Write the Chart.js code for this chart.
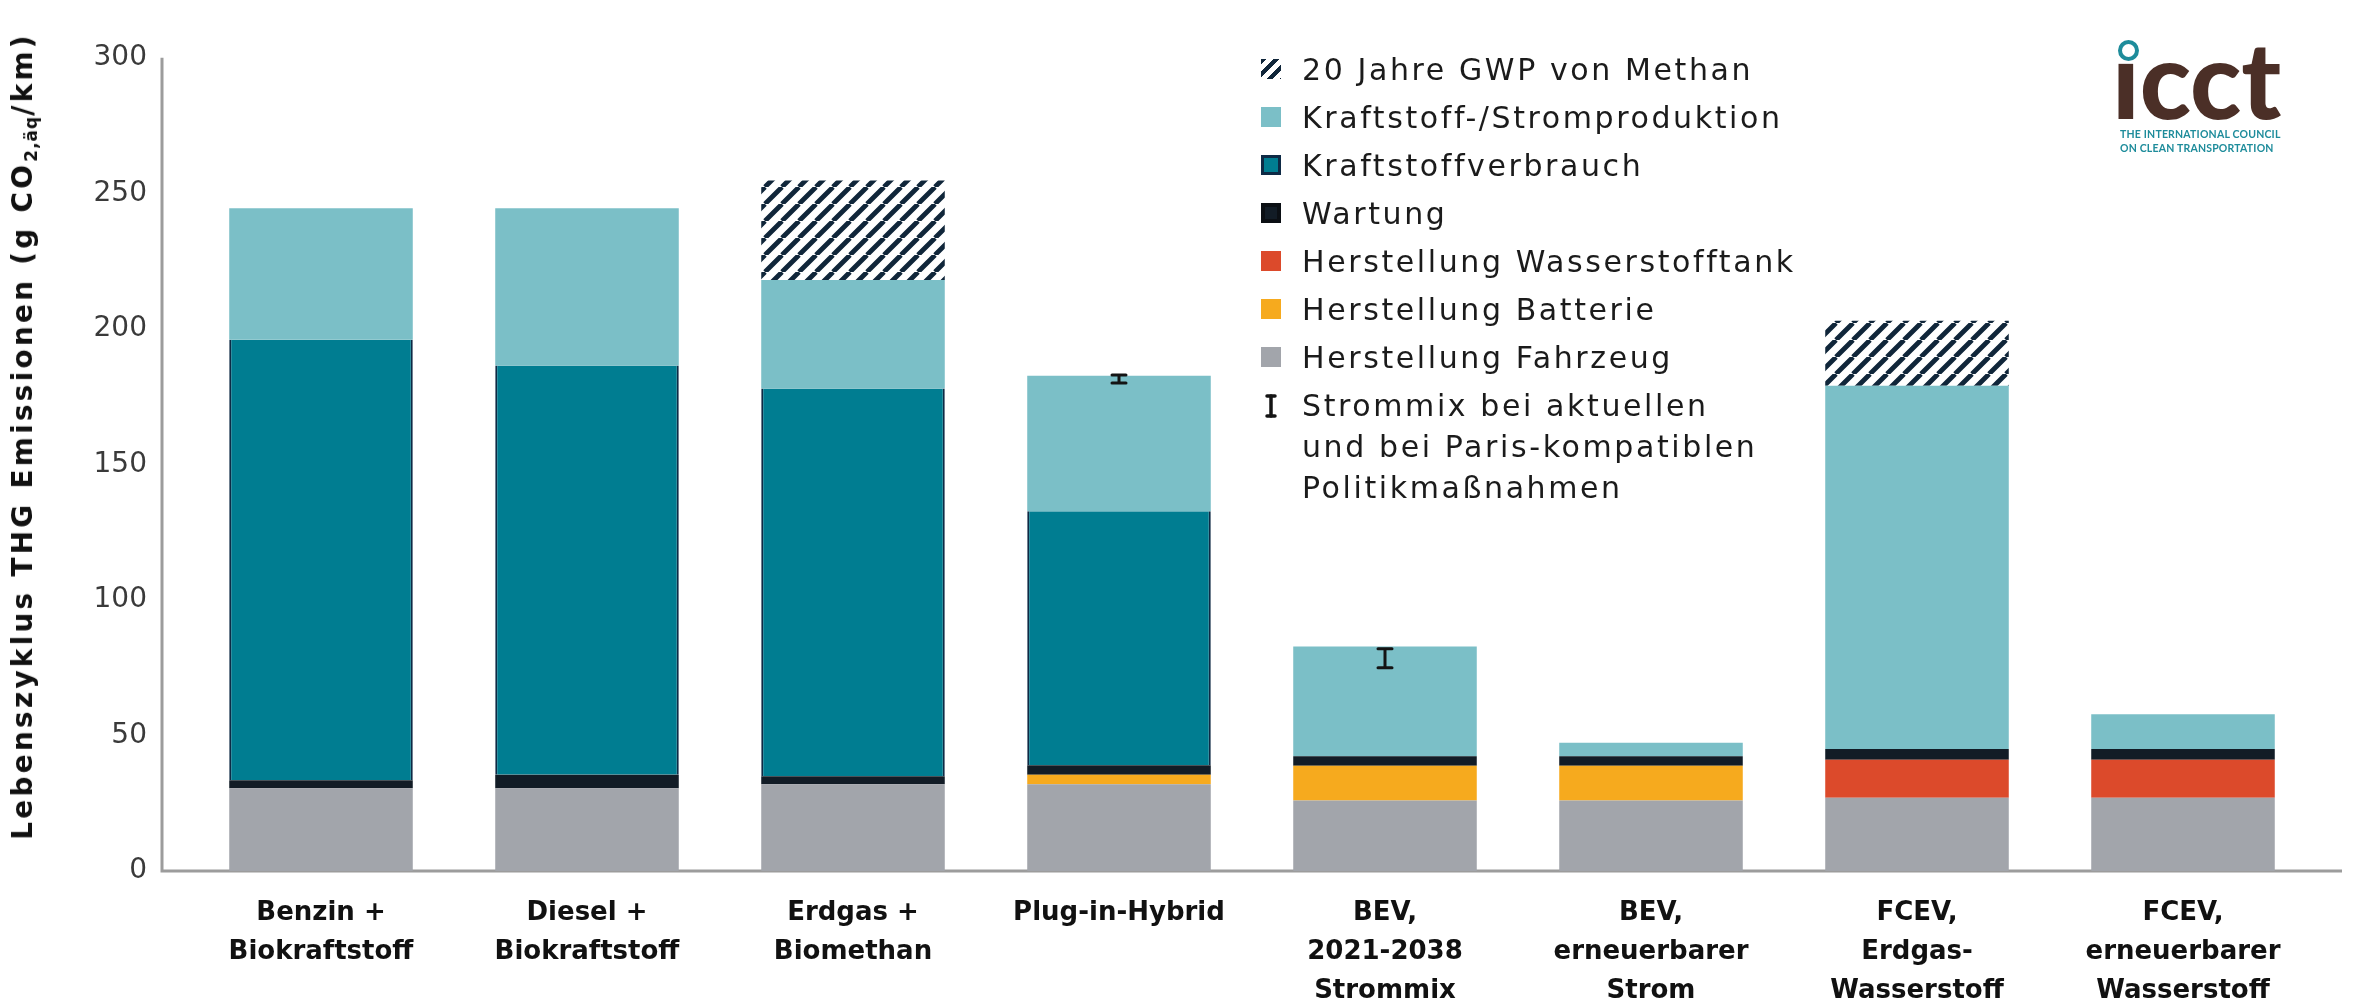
<!DOCTYPE html>
<html lang="de">
<head>
<meta charset="utf-8">
<title>Lebenszyklus THG Emissionen</title>
<script src="https://cdn.jsdelivr.net/npm/chart.js@4.4.1/dist/chart.umd.min.js"></script>
<style>
    html, body { margin: 0; padding: 0; background: #fff; }
    #wrap { position: relative; width: 2354px; height: 1006px; overflow: hidden; }
    #chart { position: absolute; left: 0; top: 0; }
    #ytitle { position: absolute; left: 27px; top: 436px; width: 0; height: 0; }
    #ytitle div {
        position: absolute; left: 0; top: 0; white-space: nowrap;
        transform: translate(-50%, -50%) rotate(-90deg);
        font-family: 'DejaVu Sans', sans-serif; font-weight: bold; font-size: 28px;
        letter-spacing: 3.2px; color: #111; line-height: 34px;
    }
    #ytitle sub { font-size: 17px; vertical-align: -5px; letter-spacing: 1px; }
    #legend {
        position: absolute; left: 1261px; top: 49px; margin: 0; padding: 0; list-style: none;
        font-family: 'DejaVu Sans', sans-serif; font-size: 30px; letter-spacing: 2.6px; color: #1b1b1b;
    }
    #legend li { display: flex; align-items: flex-start; line-height: 41px; margin-bottom: 7px; }
    #legend .sw { flex: none; width: 20px; height: 20px; margin: 10px 21px 0 0; box-sizing: border-box; }
    #logo { position: absolute; left: 2112px; top: 25px; width: 190px; }
    #logo .mark {
        position: relative; font-family: Lato, sans-serif; font-weight: 900; font-size: 106px;
        line-height: 106px; color: #4b2f27; letter-spacing: 0px; height: 102px;
    }
    #logo .ring {
        position: absolute; left: 6px; top: 15px; width: 21px; height: 21px; box-sizing: border-box;
        border: 4px solid #1e8c9b; border-radius: 50%;
    }
    #logo .sub {
        font-family: Lato, sans-serif; font-weight: 700; font-size: 10.5px; line-height: 14px;
        color: #1e8c9b; letter-spacing: 0.2px; margin-left: 8px;
    }
</style>
</head>
<body>
<div id="wrap">
    <canvas id="chart" width="2354" height="1006"></canvas>
    <div id="ytitle"><div>Lebenszyklus THG Emissionen (g CO<sub>2,äq</sub>/km)</div></div>
    <ul id="legend"></ul>
    <div id="logo">
        <div class="mark">ıcct<span class="ring"></span></div>
        <div class="sub">THE INTERNATIONAL COUNCIL<br>ON CLEAN TRANSPORTATION</div>
    </div>
</div>
<script>
// Kategorien (mehrzeilige Beschriftung)
const categories = [
    ['Benzin +', 'Biokraftstoff'],
    ['Diesel +', 'Biokraftstoff'],
    ['Erdgas +', 'Biomethan'],
    ['Plug-in-Hybrid'],
    ['BEV,', '2021-2038', 'Strommix'],
    ['BEV,', 'erneuerbarer', 'Strom'],
    ['FCEV,', 'Erdgas-', 'Wasserstoff'],
    ['FCEV,', 'erneuerbarer', 'Wasserstoff']
];

// Werte in g CO2,äq/km
const herstellungFahrzeug = [30.5, 30.5, 32, 32, 26, 26, 27, 27];
const herstellungBatterie = [null, null, null, 3.5, 12.8, 12.8, null, null];
const herstellungTank = [null, null, null, null, null, null, 14, 14];
const wartung = [3, 5, 3, 3.5, 3.5, 3.5, 4, 4];
const kraftstoffverbrauch = [162.5, 151, 143, 93.7, null, null, null, null];
const kraftstoffproduktion = [48.5, 58, 40, 50, 40.5, 5, 134, 12.8];
const methanGwp20 = [null, null, 36.7, null, null, null, 24, null];

// Strommix-Spanne (aktuelle vs. Paris-kompatible Politik)
const strommixLow = [null, null, null, 180, 75, null, null, null];
const strommixHigh = [null, null, null, 183, 82, null, null, null];

const yTicks = [0, 50, 100, 150, 200, 250, 300];

const errorBarLabel = ['Strommix bei aktuellen', 'und bei Paris-kompatiblen', 'Politikmaßnahmen'];

function makeHatch() {
    const size = 17;
    const c = document.createElement('canvas');
    c.width = size; c.height = size;
    const g = c.getContext('2d');
    g.fillStyle = '#ffffff';
    g.fillRect(0, 0, size, size);
    g.strokeStyle = '#10263a';
    g.lineWidth = 4.8;
    g.beginPath();
    [-size, 0, size].forEach(o => {
        g.moveTo(o, size);
        g.lineTo(o + size, 0);
    });
    g.stroke();
    return g.createPattern(c, 'repeat');
}

// Achsenlinien etwas ausserhalb des Kategorienbereichs
const axisLines = {
    id: 'axisLines',
    beforeDatasetsDraw(chart) {
        const { ctx, chartArea } = chart;
        const ext = 26;
        ctx.save();
        ctx.strokeStyle = '#9c9c9c';
        ctx.lineWidth = 3;
        ctx.beginPath();
        ctx.moveTo(chartArea.left - ext, chartArea.top);
        ctx.lineTo(chartArea.left - ext, chartArea.bottom);
        ctx.lineTo(chartArea.right + ext, chartArea.bottom);
        ctx.stroke();
        ctx.restore();
    }
};

const errorBars = {
    id: 'errorBars',
    afterDatasetsDraw(chart) {
        const { ctx, scales: { x, y } } = chart;
        ctx.save();
        ctx.strokeStyle = '#141414';
        ctx.lineWidth = 3;
        ctx.lineCap = 'round';
        strommixLow.forEach((lo, i) => {
            if (lo === null) return;
            const px = x.getPixelForValue(i);
            const y1 = y.getPixelForValue(lo);
            const y2 = y.getPixelForValue(strommixHigh[i]);
            ctx.beginPath();
            ctx.moveTo(px, y1); ctx.lineTo(px, y2);
            ctx.moveTo(px - 7, y1); ctx.lineTo(px + 7, y1);
            ctx.moveTo(px - 7, y2); ctx.lineTo(px + 7, y2);
            ctx.stroke();
        });
        ctx.restore();
    }
};

const hatch = makeHatch();

const chart = new Chart(document.getElementById('chart'), {
    type: 'bar',
    data: {
        labels: categories,
        datasets: [
            { label: 'Herstellung Fahrzeug', data: herstellungFahrzeug, backgroundColor: '#a2a5ab' },
            { label: 'Herstellung Batterie', data: herstellungBatterie, backgroundColor: '#f6aa1e' },
            { label: 'Herstellung Wasserstofftank', data: herstellungTank, backgroundColor: '#dc4a2b' },
            { label: 'Wartung', data: wartung, backgroundColor: '#121c26' },
            {
                label: 'Kraftstoffverbrauch', data: kraftstoffverbrauch, backgroundColor: '#007d91',
                borderColor: '#0e2a45', borderWidth: { left: 2, right: 2, top: 0, bottom: 0 }
            },
            { label: 'Kraftstoff-/Stromproduktion', data: kraftstoffproduktion, backgroundColor: '#7bbfc7' },
            { label: '20 Jahre GWP von Methan', data: methanGwp20, backgroundColor: hatch }
        ]
    },
    options: {
        responsive: false,
        animation: false,
        layout: { padding: { top: 26, right: 38, left: 0, bottom: 0 } },
        datasets: { bar: { barPercentage: 0.69, categoryPercentage: 1 } },
        plugins: { legend: { display: false }, tooltip: { enabled: false } },
        scales: {
            x: {
                stacked: true,
                grid: { display: false, drawTicks: false },
                border: { display: false },
                ticks: {
                    autoSkip: false, maxRotation: 0, padding: 23, color: '#111',
                    font: { family: 'DejaVu Sans', size: 26, weight: 'bold', lineHeight: 1.5 }
                },
                afterFit: (s) => { s.height = 135; }
            },
            y: {
                stacked: true,
                min: 0,
                max: 300,
                grid: { display: false, drawTicks: false },
                border: { display: false },
                afterBuildTicks: (s) => { s.ticks = yTicks.map(v => ({ value: v })); },
                ticks: {
                    padding: 41, color: '#3a3a3a',
                    font: { family: 'DejaVu Sans', size: 28 }
                },
                afterFit: (s) => { s.width = 188; }
            }
        }
    },
    plugins: [axisLines, errorBars]
});

// Legende (umgekehrte Stapelreihenfolge + Fehlerbalken)
const legend = document.getElementById('legend');
chart.data.datasets.slice().reverse().forEach(ds => {
    const li = document.createElement('li');
    const sw = document.createElement('span');
    sw.className = 'sw';
    if (ds.label === '20 Jahre GWP von Methan') {
        sw.style.background = 'repeating-linear-gradient(135deg, #10263a 0 4px, #fff 4px 9px)';
    } else {
        sw.style.background = ds.backgroundColor;
        if (ds.label === 'Kraftstoffverbrauch') sw.style.border = '3px solid #0e2a45';
        if (ds.label === 'Wartung') sw.style.border = '4px solid #0b0f14';
    }
    li.appendChild(sw);
    li.appendChild(document.createTextNode(ds.label));
    legend.appendChild(li);
});
const eli = document.createElement('li');
eli.innerHTML = '<svg class="sw" width="20" height="26" style="height:26px;margin-top:8px" viewBox="0 0 20 26">' +
    '<g stroke="#141414" stroke-width="3.5" stroke-linecap="round">' +
    '<line x1="10" y1="3" x2="10" y2="23"/><line x1="6" y1="3" x2="14" y2="3"/><line x1="6" y1="23" x2="14" y2="23"/></g></svg>' +
    '<span>' + errorBarLabel.join('<br>') + '</span>';
legend.appendChild(eli);
</script>
</body>
</html>
